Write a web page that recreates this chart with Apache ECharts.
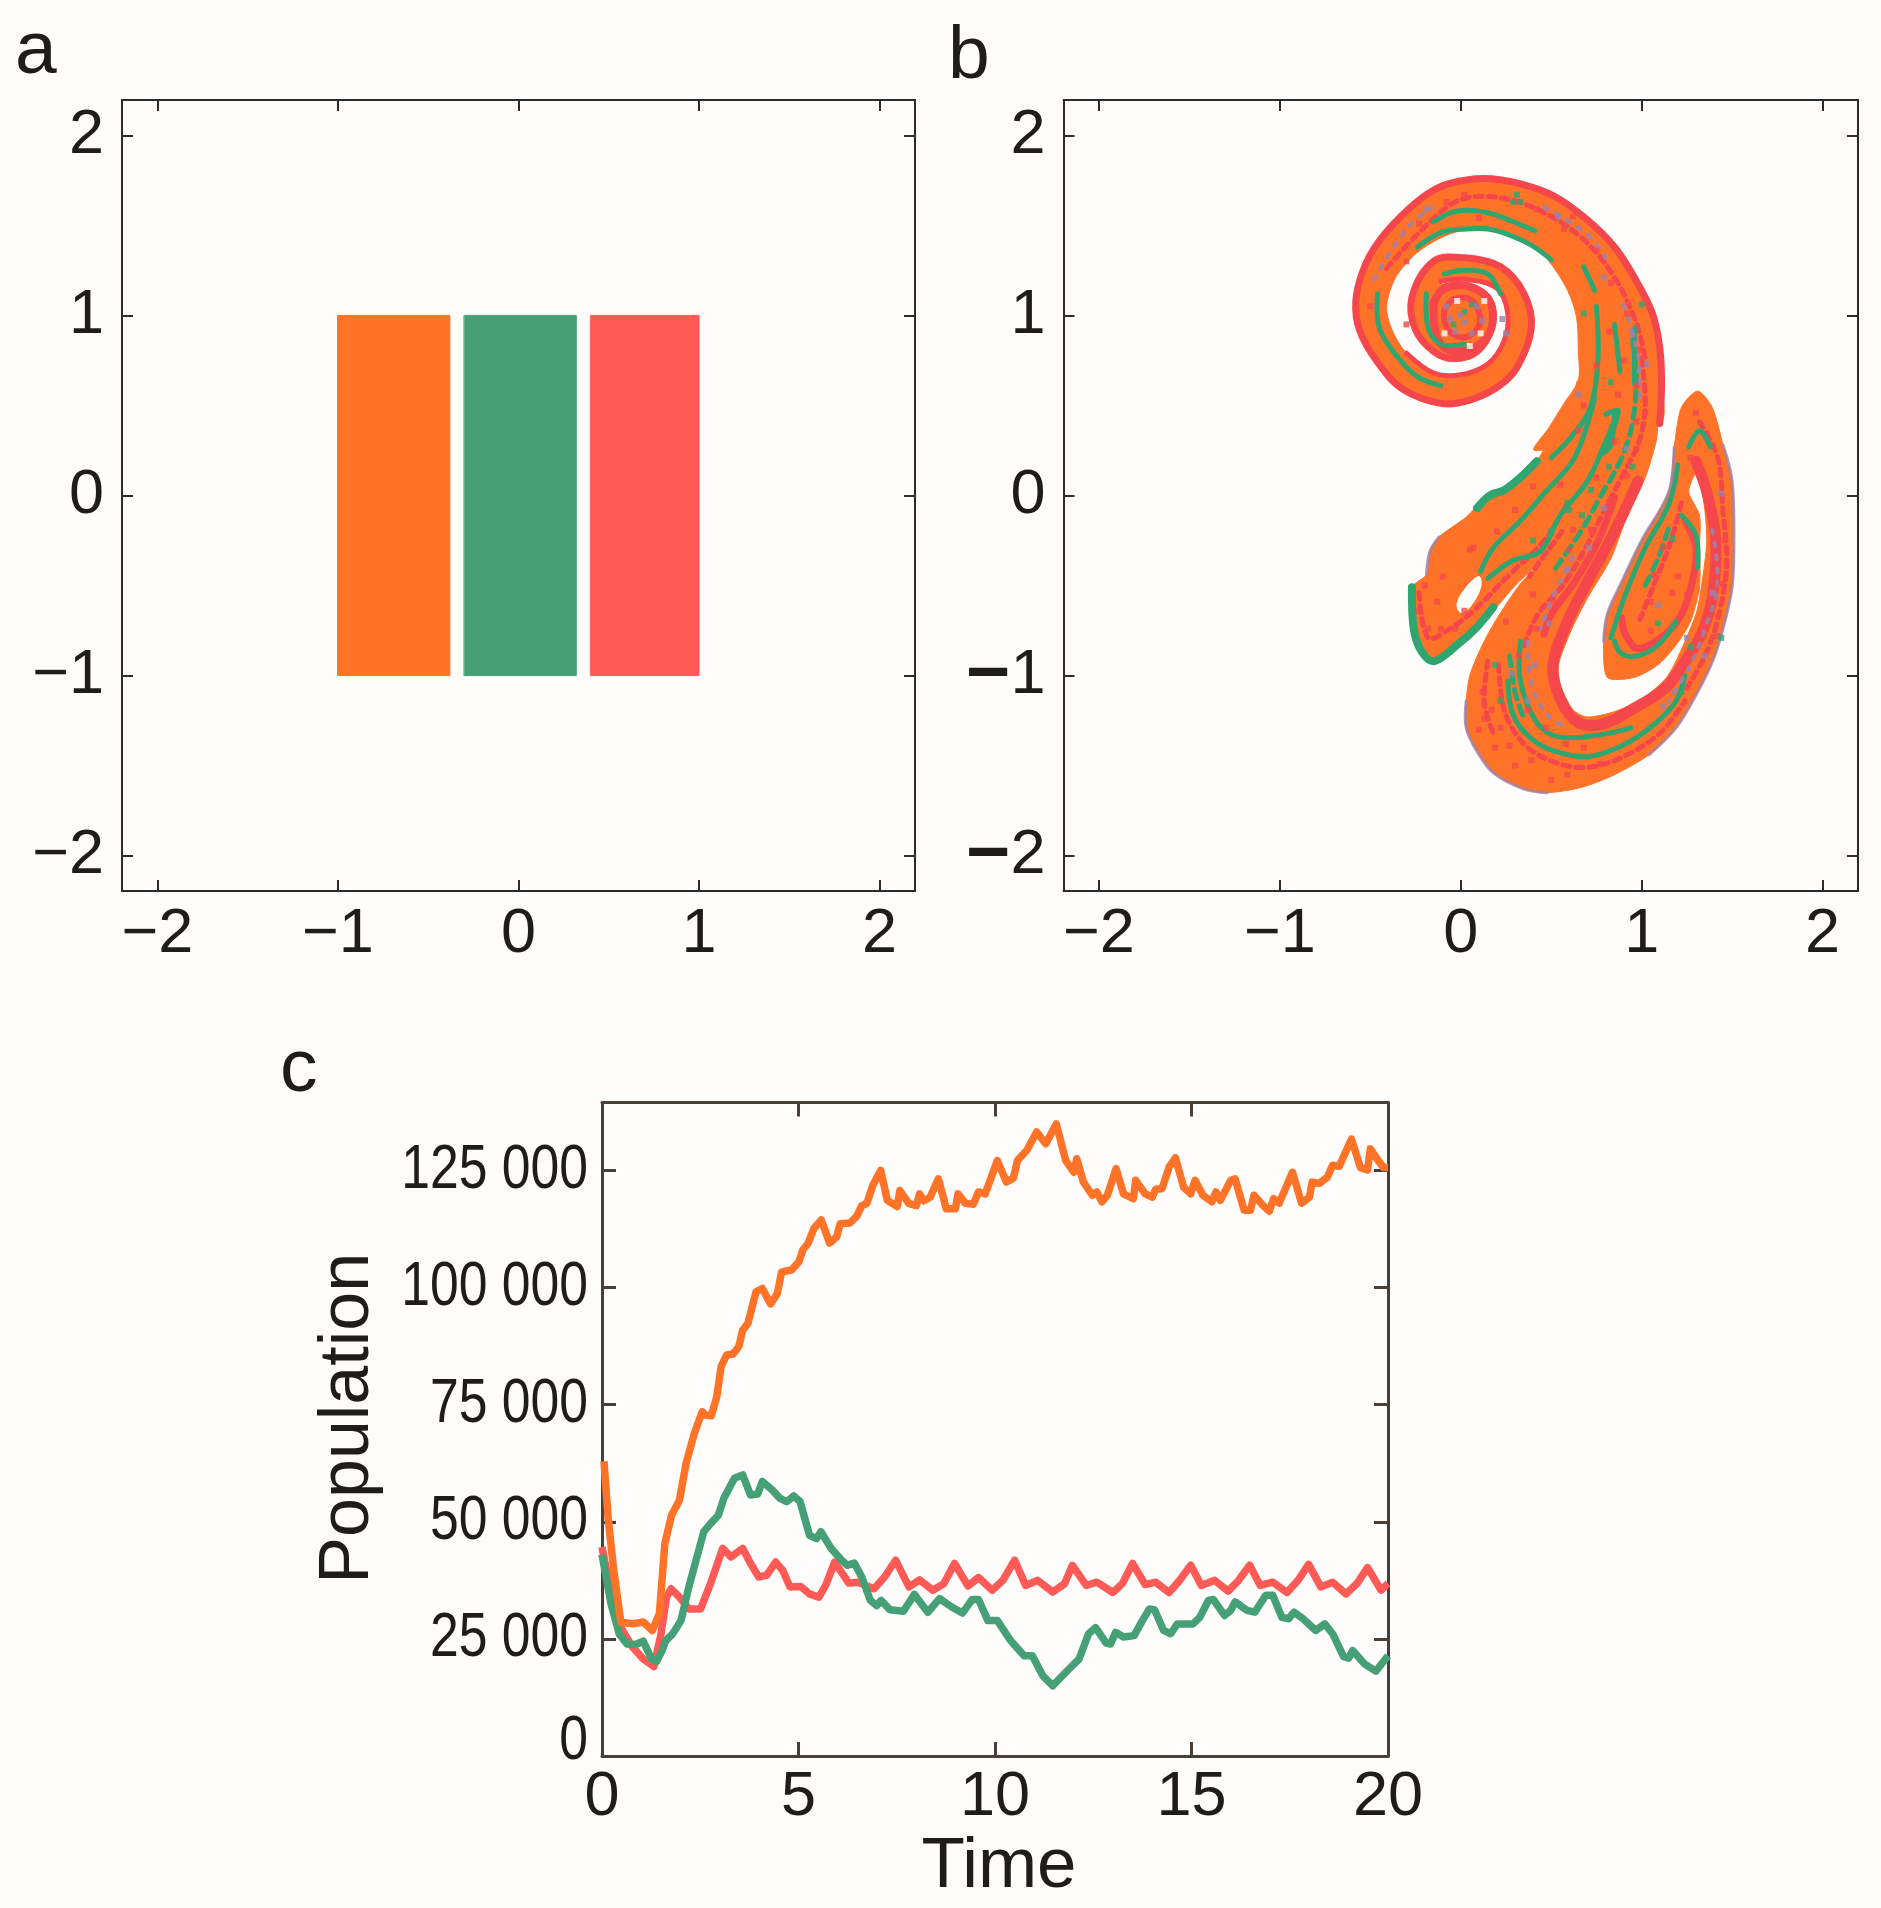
<!DOCTYPE html>
<html><head><meta charset="utf-8">
<style>html,body{margin:0;padding:0;background:#fefdfc}#c{width:1881px;height:1908px}</style>
<script src="https://cdn.jsdelivr.net/npm/echarts@6/dist/echarts.min.js"></script>
</head><body><div id="c"></div>
<script>
const ORANGE='#ff7328',GREEN='#46a075',RED='#ff5a55',BAND_RED='#f5474b',BAND_GREEN='#2fa56f',PURPLE='#9c82a8',INK='#1f1c1a',PAPER='#fefdfc';
const FONT='"Liberation Sans",Arial,sans-serif';

// panel a
const rectOrange=[[-1,-1],[-0.38,-1],[-0.38,1],[-1,1]];
const rectGreen=[[-0.3,-1],[0.32,-1],[0.32,1],[-0.3,1]];
const rectRed=[[0.4,-1],[1,-1],[1,1],[0.4,1]];
const spaceTicks=[-2,-1,0,1,2];

// panel b, outlines in axis units
const spiralOuter=[[1.10,0.40],[1.11,0.62],[1.10,0.82],[1.06,1.01],[0.96,1.21],[0.85,1.38],[0.70,1.53],[0.52,1.66],[0.33,1.73],[0.13,1.76],[-0.07,1.73],[-0.19,1.67],[-0.33,1.55],[-0.46,1.40],[-0.54,1.25],[-0.58,1.08],[-0.56,0.92],[-0.46,0.74],[-0.32,0.59],[-0.10,0.51],[0.05,0.53],[0.20,0.60],[0.31,0.71],[0.39,0.93],[0.35,1.12],[0.22,1.27],[0.02,1.32],[-0.15,1.30],[-0.27,1.10],[-0.25,0.92],[-0.15,0.80],[-0.04,0.76],[0.09,0.80],[0.17,0.93],[0.16,1.08],[0.05,1.16],[-0.08,1.16]];
const spiralInner=[[-0.11,1.19],[0.03,1.20],[0.20,1.15],[0.26,1.01],[0.24,0.86],[0.15,0.73],[0.00,0.67],[-0.15,0.68],[-0.30,0.79],[-0.38,0.92],[-0.41,1.05],[-0.36,1.21],[-0.24,1.35],[-0.09,1.44],[0.05,1.48],[0.22,1.46],[0.37,1.40],[0.48,1.31],[0.59,1.14],[0.64,0.99],[0.65,0.80],[0.65,0.64],[0.57,0.51],[0.49,0.38],[0.41,0.25]];
const centerDisc=[[-0.15,1.07],[-0.09,1.15],[0.05,1.16],[0.16,1.08],[0.17,0.93],[0.09,0.83],[-0.04,0.80],[-0.13,0.87]];
const centerRing=[[-0.09,1.03],[-0.04,1.09],[0.05,1.09],[0.10,1.02],[0.10,0.94],[0.03,0.88],[-0.05,0.90],[-0.09,0.97],[-0.09,1.03]];
const lowerBody=[[0.65,0.64],[1.11,0.64],[1.09,0.40],[1.08,0.30],[1.02,0.10],[0.91,-0.14],[0.83,-0.35],[0.70,-0.57],[0.61,-0.75],[0.54,-0.94],[0.55,-1.05],[0.62,-1.19],[0.70,-1.23],[0.85,-1.20],[1.00,-1.13],[1.13,-1.02],[1.19,-0.92],[1.30,-0.66],[1.33,-0.51],[1.36,-0.25],[1.34,-0.01],[1.30,0.12],[1.26,0.02],[1.32,-0.11],[1.32,-0.29],[1.32,-0.51],[1.27,-0.70],[1.19,-0.83],[1.09,-0.94],[0.96,-1.01],[0.81,-1.01],[0.79,-0.81],[0.81,-0.66],[0.89,-0.48],[1.00,-0.25],[1.15,0.02],[1.18,0.27],[1.22,0.49],[1.31,0.58],[1.39,0.49],[1.45,0.28],[1.50,0.08],[1.51,-0.29],[1.50,-0.51],[1.46,-0.70],[1.40,-0.90],[1.31,-1.09],[1.19,-1.29],[1.04,-1.44],[0.85,-1.55],[0.67,-1.62],[0.48,-1.65],[0.35,-1.63],[0.18,-1.54],[0.09,-1.42],[0.03,-1.29],[0.03,-1.14],[0.05,-1.00],[0.11,-0.85],[0.19,-0.70],[0.33,-0.49],[0.46,-0.36],[0.31,-0.49],[0.18,-0.64],[0.07,-0.74],[-0.02,-0.83],[-0.15,-0.93],[-0.23,-0.87],[-0.27,-0.74],[-0.27,-0.51],[-0.19,-0.44],[-0.17,-0.31],[-0.12,-0.23],[0.03,-0.12],[0.15,0.00],[0.24,0.03],[0.42,0.19],[0.52,0.38],[0.63,0.58]];
const lobeHole=[[-0.02,-0.60],[0.03,-0.51],[0.10,-0.45],[0.11,-0.51],[0.05,-0.62],[0.00,-0.65]];
const redStrands=[
 [[0.98,0.08],[0.85,-0.20],[0.70,-0.48],[0.59,-0.70],[0.51,-0.94],[0.55,-1.13],[0.65,-1.26],[0.78,-1.27],[0.96,-1.18],[1.13,-1.07],[1.24,-0.92],[1.33,-0.77],[1.39,-0.57],[1.41,-0.25],[1.36,0.02],[1.30,0.19]],
 [[1.24,-0.14],[1.30,-0.29],[1.28,-0.48],[1.22,-0.66],[1.13,-0.77],[0.98,-0.85],[0.91,-0.77],[0.89,-0.68]],
 [[0.85,-0.01],[0.76,-0.25],[0.63,-0.48],[0.50,-0.66],[0.46,-0.77]]
];
const redDashes=[
 [[0.21,-0.94],[0.24,-1.19],[0.34,-1.37],[0.49,-1.47],[0.69,-1.51],[0.90,-1.45],[1.10,-1.32],[1.24,-1.14]],
 [[1.00,0.76],[1.02,0.51],[0.99,0.31],[0.92,0.16],[0.79,-0.09],[0.69,-0.29],[0.57,-0.49],[0.42,-0.67],[0.35,-0.84]],
 [[-0.41,1.26],[-0.23,1.46],[-0.03,1.63],[0.17,1.66],[0.42,1.59],[0.67,1.43],[0.85,1.21],[0.97,0.96],[1.02,0.76]],
 [[-0.23,-0.54],[-0.18,-0.79],[-0.06,-0.74],[0.07,-0.64],[0.27,-0.44],[0.47,-0.24],[0.59,-0.04]],
 [[1.32,0.41],[1.42,0.21],[1.45,-0.09],[1.47,-0.39],[1.42,-0.69],[1.35,-0.89],[1.25,-1.07]],
 [[0.99,-0.69],[1.07,-0.49],[1.15,-0.29],[1.22,-0.04]],
 [[0.56,-0.20],[0.45,-0.35],[0.38,-0.45]],
 [[0.15,-0.92],[0.13,-1.15],[0.18,-1.32]]
];
const greenStrands=[
 [[-0.24,1.38],[-0.11,1.46],[0.03,1.48],[0.15,1.48],[0.26,1.45],[0.39,1.39],[0.50,1.31]],
 [[-0.46,1.12],[-0.45,0.93],[-0.35,0.77],[-0.24,0.66],[-0.11,0.61]],
 [[-0.15,1.52],[-0.02,1.58],[0.15,1.57],[0.29,1.52],[0.41,1.47]],
 [[-0.19,1.12],[-0.18,0.93],[-0.11,0.84],[0.02,0.84]],
 [[-0.09,1.23],[0.02,1.25],[0.15,1.23],[0.22,1.12]],
 [[0.75,1.05],[0.76,0.80],[0.74,0.58],[0.70,0.45],[0.59,0.30],[0.50,0.21]],
 [[0.68,1.27],[0.74,1.14]],
 [[0.85,0.95],[0.88,0.69]],
 [[0.96,0.93],[0.96,0.62]],
 [[0.80,0.45],[0.87,0.47],[0.83,0.34],[0.78,0.25]],
 [[-0.27,-0.51],[-0.26,-0.74],[-0.22,-0.86],[-0.15,-0.92],[-0.02,-0.83],[0.09,-0.73],[0.18,-0.62]],
 [[0.09,-0.07],[0.16,0.00],[0.24,0.03],[0.33,0.10],[0.42,0.19]],
 [[0.11,-0.42],[0.18,-0.29],[0.33,-0.14],[0.46,0.01],[0.63,0.21],[0.74,0.54]],
 [[0.15,-0.46],[0.29,-0.36],[0.44,-0.31],[0.55,-0.11],[0.70,0.08],[0.81,0.32],[0.87,0.47]],
 [[0.85,-0.81],[0.89,-0.88],[0.98,-0.89],[1.09,-0.83],[1.19,-0.70]],
 [[0.83,-0.79],[0.91,-0.55],[1.02,-0.29],[1.15,-0.05],[1.20,0.17]],
 [[1.22,-0.11],[1.30,-0.22],[1.31,-0.40]],
 [[1.26,0.27],[1.32,0.36],[1.38,0.27]],
 [[0.26,-1.03],[0.29,-1.22],[0.39,-1.35],[0.52,-1.42],[0.70,-1.45],[0.89,-1.39],[1.07,-1.27],[1.19,-1.14],[1.24,-1.00]],
 [[0.33,-0.81],[0.33,-1.03],[0.42,-1.26],[0.54,-1.34],[0.76,-1.33],[0.94,-1.29]],
 [[0.85,0.45],[0.83,0.28],[0.78,0.23]]
];
const greenDashes=[
 [[0.95,0.86],[0.97,0.66],[0.95,0.41],[0.89,0.21],[0.77,-0.01],[0.67,-0.19],[0.52,-0.41]],
 [[0.27,-0.89],[0.30,-1.09],[0.35,-1.24]],
 [[1.02,-0.50],[1.09,-0.35],[1.15,-0.18]]
];
const purpleDashes=[
 [[0.37,-0.81],[0.39,-1.04],[0.47,-1.21],[0.59,-1.29]],
 [[1.39,-0.19],[1.42,-0.49],[1.35,-0.74],[1.27,-0.94],[1.15,-1.14]],
 [[0.62,-0.34],[0.52,-0.54],[0.44,-0.74]],
 [[0.90,1.06],[0.98,0.78],[0.99,0.55]],
 [[-0.48,1.20],[-0.30,1.48],[-0.16,1.60]],
 [[0.46,1.60],[0.70,1.45],[0.80,1.32]]
];
const purpleEdges=[
 [[1.45,0.28],[1.50,0.08],[1.51,-0.29],[1.50,-0.51],[1.46,-0.70],[1.40,-0.90],[1.31,-1.09],[1.19,-1.29],[1.04,-1.44]],
 [[0.48,-1.65],[0.35,-1.63],[0.18,-1.54],[0.09,-1.42],[0.03,-1.29],[0.03,-1.14]],
 [[-0.19,-0.44],[-0.17,-0.31],[-0.12,-0.23]],
 [[0.79,-0.81],[0.81,-0.66],[0.89,-0.48],[1.00,-0.25],[1.15,0.02],[1.18,0.27]]
];
const speckRed=[[-0.08,1.63],[0.02,1.67],[-0.23,1.51],[0.42,1.59],[0.57,1.48],[0.75,1.36],[0.83,1.18],[0.92,1.01],[0.99,0.81],[0.97,0.61],[0.82,0.91],[0.87,0.56],[1.02,0.46],[0.37,-1.19],[0.47,-1.29],[0.27,-1.39],[0.17,-1.19],[0.12,-1.09],[0.32,-0.89],[0.42,-0.74],[0.52,-0.59],[0.67,-0.34],[0.72,-0.19],[0.82,-0.04],[0.92,0.11],[0.97,0.26],[0.97,0.41],[0.62,-0.19],[0.02,-0.64],[-0.13,-0.59],[-0.18,-0.74],[-0.03,-0.74],[0.07,-0.29],[1.30,0.46],[1.27,0.21],[1.07,-0.44],[1.12,-0.29],[1.05,-0.59],[1.17,-0.54],[1.39,-0.09],[1.44,-0.49],[0.39,-1.47],[0.22,-1.29],[0.59,-1.55],[0.77,-1.49],[-0.23,-0.64],[-0.11,-0.74],[0.55,0.06],[0.65,0.36],[0.10,-1.30],[0.13,-1.24],[0.19,-1.40],[0.30,-1.50],[0.50,-1.58],[0.68,-1.40],[0.58,-1.38],[0.25,-0.70],[0.40,-0.55],[0.60,-0.30],[0.75,0.10],[0.85,0.30],[1.25,-0.55],[1.05,-0.75],[1.20,-0.45],[1.46,-0.25],[1.42,-0.78],[-0.20,-0.50],[-0.10,-0.45],[0.05,-0.30],[0.20,-0.20],[0.30,-0.08],[0.40,0.05],[0.68,0.50],[0.75,0.72],[0.90,0.75],[-0.30,0.95],[-0.50,1.05],[-0.30,1.30],[0.10,1.54],[0.62,1.55]];
const speckGreen=[[0.29,1.63],[0.31,1.67],[0.33,1.63],[0.68,1.01],[0.83,0.63],[1.00,1.06],[0.95,0.16],[0.72,0.03],[0.82,0.16],[0.59,-0.04],[0.67,-0.11],[1.09,-0.71],[1.17,-0.24],[1.44,-0.79],[0.19,-0.94],[0.22,-1.14],[1.27,-0.84],[1.22,-1.09],[0.50,-0.20],[0.60,-0.08],[0.40,-0.25],[0.02,1.02],[-0.04,0.95],[0.06,1.06]];
const speckPurple=[[-0.19,1.59],[0.54,1.55],[0.79,1.21],[0.95,0.89],[1.03,0.73],[-0.08,1.05],[0.02,0.96],[0.09,1.05],[-0.03,0.91],[0.65,0.56],[0.71,-0.29],[0.79,-0.07],[0.59,-0.41],[0.49,-0.71],[0.41,-0.94],[1.09,-0.61],[1.25,-0.79],[1.35,-0.89],[0.28,-0.99],[0.37,-1.14],[1.12,-1.17],[0.92,0.26],[1.39,-0.54],[1.44,0.01],[0.0,1.0],[0.06,0.90],[-0.06,0.98],[0.12,0.97],[0.23,0.98],[0.25,0.90]];
const speckPaper=[[-0.02,1.08],[0.11,0.90],[-0.09,0.90],[0.05,0.83],[0.13,1.08]];

// panel c
const orangeTime=[0.05,0.1,0.16,0.3,0.48,0.78,1.05,1.28,1.46,1.6,1.77,1.97,2.14,2.35,2.55,2.62,2.78,2.92,3.03,3.17,3.33,3.48,3.58,3.71,3.92,4.08,4.29,4.46,4.57,4.83,5.01,5.11,5.24,5.39,5.58,5.79,5.97,6.06,6.31,6.48,6.61,6.74,6.89,7.09,7.26,7.51,7.58,7.81,8.0,8.08,8.19,8.35,8.56,8.76,8.99,9.06,9.24,9.45,9.58,9.75,10.06,10.29,10.47,10.57,10.81,11.06,11.29,11.56,11.8,12.01,12.08,12.25,12.48,12.59,12.72,12.86,13.08,13.27,13.52,13.58,13.82,14.0,14.09,14.25,14.43,14.59,14.8,14.98,15.09,15.29,15.52,15.62,15.73,16.0,16.11,16.34,16.5,16.59,16.82,16.98,17.09,17.23,17.57,17.8,18.0,18.07,18.25,18.46,18.59,18.76,19.07,19.3,19.48,19.55,19.75,19.89,20];
const orangeValues=[62900,62900,50400,39600,28600,28200,28600,26800,30400,45400,51400,54600,62500,68900,73500,72800,72600,76700,83100,85600,85800,87400,90900,92300,99100,99800,96500,98700,103300,103800,105500,108000,109400,112600,114400,109500,110800,113600,113800,115200,117500,118000,121800,125000,118600,117300,120700,117900,117500,120000,118500,119300,123200,116800,116800,120000,118000,117800,120400,120000,127100,122500,123400,127100,129300,133200,130700,134900,127100,124600,127500,122500,119700,120400,118300,119700,125400,120000,119000,122900,120000,119300,121000,121100,125700,127700,121400,120000,122900,119700,118300,120400,118600,122900,123200,116500,116500,119700,117500,116300,119000,118000,124600,118000,119300,122500,122200,123600,126100,125900,131700,125600,125100,129600,127100,125600,125600];
const greenTime=[0,0.23,0.44,0.64,0.85,1.05,1.26,1.39,1.53,1.62,1.8,2.01,2.21,2.59,2.76,2.96,3.1,3.37,3.58,3.78,3.96,4.08,4.33,4.53,4.7,4.88,5.04,5.28,5.46,5.57,5.83,6.1,6.24,6.42,6.61,6.83,6.99,7.1,7.33,7.67,7.95,8.29,8.59,8.9,9.17,9.42,9.58,9.82,10.06,10.4,10.74,10.95,11.22,11.47,11.84,12.14,12.38,12.56,12.83,12.94,13.07,13.27,13.54,13.75,13.93,14.06,14.29,14.47,14.64,15.04,15.21,15.43,15.56,15.84,16,16.11,16.41,16.61,16.89,17.07,17.3,17.47,17.61,17.84,18.16,18.39,18.59,18.87,19,19.1,19.41,19.69,20];
const greenValues=[43000,32500,26000,23900,23800,24500,20700,20200,22500,24600,26100,28900,36100,47900,49600,51400,55000,59300,60000,55700,55900,58600,56800,55000,54300,55500,54300,47100,46400,47900,44300,41800,40700,41200,38200,33200,32100,33200,31200,30900,34500,30700,33600,31800,30500,33400,33400,28900,28900,24600,21400,21400,17100,15000,18200,20700,26100,27400,24100,23900,26400,25400,25700,28900,31400,31200,26800,26100,28200,28200,29600,33200,33400,30000,31100,32900,31100,30700,34300,34300,29600,29300,30700,29300,26800,28200,26100,21200,20900,22500,19600,18100,21400];
const redTime=[0,0.23,0.5,0.78,1.05,1.32,1.5,1.64,1.76,1.97,2.21,2.51,2.76,3.07,3.28,3.58,3.78,3.99,4.19,4.42,4.6,4.78,5.05,5.28,5.52,5.69,5.92,6.28,6.51,6.92,7.19,7.47,7.81,8.08,8.42,8.7,8.97,9.31,9.58,9.93,10.2,10.5,10.78,11.08,11.47,11.77,11.97,12.32,12.59,13,13.24,13.5,13.82,14.09,14.43,14.7,14.98,15.25,15.59,15.93,16.2,16.48,16.75,17.07,17.43,17.71,17.98,18.29,18.59,18.93,19.21,19.48,19.82,20];
const redValues=[44600,34600,27100,23200,20700,19100,26000,33900,35700,33900,31400,31400,36800,44300,42500,44300,41100,38200,38600,41400,39600,36100,36200,34600,33900,36400,41400,36900,37100,35700,38200,41800,36100,37600,35400,36800,41100,36300,38100,35400,37500,41800,36400,37500,35000,36800,40700,36400,37100,34900,36800,41100,36600,37100,34900,37500,40700,36400,37500,35200,37500,40700,36400,37100,34900,37500,40900,36100,37100,34600,36800,40200,35400,36800];
const timeTicks=[0,5,10,15,20];
const popTicks=[0,25000,50000,75000,100000,125000];
const popLabels=['0','25 000','50 000','75 000','100 000','125 000'];

const pairs=(a,b)=>a.map((v,i)=>[v,b[i]]);
function shapeSeries(axis,points,style,closed,smooth){
  return {type:'custom',xAxisIndex:axis,yAxisIndex:axis,coordinateSystem:'cartesian2d',silent:true,
    data:[points[0]],clip:true,encode:{x:0,y:1},
    renderItem:function(p,api){
      return {type:closed?'polygon':'polyline',
        shape:{points:points.map(q=>api.coord(q)),smooth:smooth||0},
        style:Object.assign({lineJoin:'round',lineCap:'round'},style)};
    }};
}
const fillS=(a,pts,c,sm)=>shapeSeries(a,pts,{fill:c,stroke:c,lineWidth:1},true,sm);
const strokeS=(a,pts,c,w,o,dash)=>shapeSeries(a,pts,{fill:null,stroke:c,lineWidth:w,opacity:o==null?1:o,lineDash:dash||null},false,0.35);
const specks=(a,pts,c)=>({type:'scatter',xAxisIndex:a,yAxisIndex:a,data:pts,symbol:'rect',symbolSize:6,itemStyle:{color:c},silent:true});

function minusFmt(v){return String(v).replace('-','\u2212');}
function boldMinusFmt(v){return v<0?'{m|\u2212}'+Math.abs(v):String(v);}
function axisPair(ticksMin,ticksMax,ticks,pos,labelOpts,grid,tickLen,lineColor,lw){
  const base=(p,show)=>({type:'value',gridIndex:grid,position:p,min:ticksMin,max:ticksMax,
    splitLine:{show:false},
    axisLine:{show:true,onZero:false,lineStyle:{color:lineColor,width:lw}},
    axisTick:{show:true,inside:true,length:tickLen,customValues:ticks,lineStyle:{color:lineColor,width:lw}},
    axisLabel:show&&labelOpts?Object.assign({show:true,customValues:ticks,fontFamily:FONT,fontSize:63,color:INK},labelOpts):{show:false}});
  return pos==='x'?[base('bottom',true),base('top',false)]:[base('left',true),base('right',false)];
}
const xAxes=[],yAxes=[];
xAxes.push(...axisPair(-2.196,2.196,spaceTicks,'x',{formatter:minusFmt,margin:12},0,11,'#2b2b2b',2));
yAxes.push(...axisPair(-2.196,2.196,spaceTicks,'y',{formatter:minusFmt,margin:18},0,11,'#2b2b2b',2));
xAxes.push(...axisPair(-2.196,2.196,spaceTicks,'x',{formatter:minusFmt,margin:12},1,11,'#2b2b2b',2));
yAxes.push(...axisPair(-2.196,2.196,spaceTicks,'y',{formatter:boldMinusFmt,margin:18,rich:{m:{fontFamily:FONT,fontSize:76,fontWeight:'bold',color:INK}}},1,11,'#2b2b2b',2));
const cx=axisPair(0,20,timeTicks,'x',{fontSize:63,margin:10},2,14,'#4a3f38',3);
cx[0].name='Time';cx[0].nameLocation='middle';cx[0].nameGap=76;
cx[0].nameTextStyle={fontFamily:FONT,fontSize:71,color:INK,padding:[0,0,0,8]};
const cy=axisPair(0,139500,popTicks,'y',null,2,14,'#4a3f38',3);
cy[0].name='Population';cy[0].nameLocation='middle';cy[0].nameGap=218;
cy[0].nameTextStyle={fontFamily:FONT,fontSize:70,color:INK,padding:[0,0,0,22]};
xAxes.push(...cx);yAxes.push(...cy);
const A=0,B=2,C=4;

const lineS=(t,v,c)=>({type:'line',xAxisIndex:C,yAxisIndex:C,data:pairs(t,v),showSymbol:false,
  lineStyle:{color:c,width:7.5,join:'round'},itemStyle:{color:c},silent:true,clip:true});
const popLabelSeries={type:'custom',xAxisIndex:C,yAxisIndex:C,coordinateSystem:'cartesian2d',silent:true,clip:false,
  data:popTicks.map(v=>[0,v]),encode:{x:0,y:1},
  renderItem:function(p,api){
    const v=api.value(1),pt=api.coord([0,v]);
    return {type:'text',x:pt[0]-14,y:pt[1]+(v===0?-14:0),scaleX:0.82,
      style:{text:popLabels[p.dataIndex],fontFamily:'Liberation Sans',fontSize:63,fill:INK,textAlign:'right',textVerticalAlign:'middle'}};
  }};

const series=[
  fillS(A,rectOrange,ORANGE),fillS(A,rectGreen,GREEN),fillS(A,rectRed,RED),
  fillS(B,spiralOuter.concat(spiralInner),ORANGE,0.3),
  fillS(B,lowerBody,ORANGE,0.25),
  fillS(B,lobeHole,PAPER,0.4),
  fillS(B,centerDisc,ORANGE,0.5),
  strokeS(B,centerDisc.concat([centerDisc[0]]),BAND_RED,8),
  strokeS(B,centerRing,BAND_RED,6),
  strokeS(B,spiralOuter,BAND_RED,7),
  strokeS(B,spiralInner.slice(0,9),BAND_RED,5),
  ...redStrands.map((s,i)=>strokeS(B,s,BAND_RED,i===0?11:7)),
  ...redDashes.map(s=>strokeS(B,s,BAND_RED,5,1,[7,6])),
  ...greenStrands.map((s,i)=>strokeS(B,s,BAND_GREEN,i===10||i===11?8:5)),
  ...greenDashes.map(s=>strokeS(B,s,BAND_GREEN,5,1,[10,7])),
  ...purpleDashes.map(s=>strokeS(B,s,PURPLE,4,0.9,[4,9])),
  ...purpleEdges.map(s=>strokeS(B,s,PURPLE,3,0.8)),
  specks(B,speckRed,BAND_RED),specks(B,speckGreen,BAND_GREEN),specks(B,speckPurple,PURPLE),specks(B,speckPaper,PAPER),
  lineS(redTime,redValues,RED),lineS(greenTime,greenValues,GREEN),lineS(orangeTime,orangeValues,ORANGE),
  popLabelSeries
];
const chart=echarts.init(document.getElementById('c'),null,{renderer:'canvas'});
chart.setOption({
  backgroundColor:PAPER,animation:false,tooltip:{show:false},legend:{show:false},
  title:[
    {text:'a',left:10,top:10,textStyle:{fontFamily:FONT,fontSize:75,fontWeight:'normal',color:INK}},
    {text:'b',left:943,top:15,textStyle:{fontFamily:FONT,fontSize:75,fontWeight:'normal',color:INK}},
    {text:'c',left:275,top:1028,textStyle:{fontFamily:FONT,fontSize:75,fontWeight:'normal',color:INK}}
  ],
  grid:[
    {left:122,top:100,width:793,height:791},
    {left:1063.5,top:100,width:794.5,height:791},
    {left:602,top:1102.5,width:786,height:653.5}
  ],
  xAxis:xAxes,yAxis:yAxes,series:series
});
</script></body></html>
